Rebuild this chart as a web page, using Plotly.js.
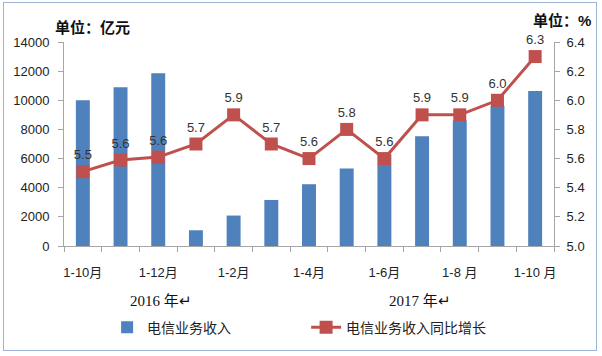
<!DOCTYPE html>
<html>
<head>
<meta charset="utf-8">
<script src="https://cdn.plot.ly/plotly-3.0.1.min.js"></script>
<style>
html,body{margin:0;padding:0;background:#fff;}
#wrap{position:relative;width:602px;height:356px;}
#chart{width:602px;height:356px;}
#frame{position:absolute;left:3px;top:2px;width:592px;height:347px;border:1px solid #9db4d4;pointer-events:none;}
</style>
</head>
<body>
<div id="wrap"><div id="chart"></div><div id="frame"></div></div>
<script>
// categories (unique keys; 2017 entries with space as in the reference)
const categories = ["1-10月","1-11月","1-12月","1月","1-2月","1-3月","1-4月","1-5月","1-6月","1-7月","1-8 月","1-9月","1-10 月"];
const tickLabels = ["1-10月","","1-12月","","1-2月","","1-4月","","1-6月","","1-8 月","","1-10 月"];
// 电信业务收入 (亿元)
const revenue = [10000, 10900, 11850, 1080, 2090, 3160, 4240, 5320, 6300, 7530, 8620, 9620, 10630];
// 同比增长 (%)
const growth = [5.51, 5.59, 5.61, 5.7, 5.9, 5.7, 5.6, 5.8, 5.6, 5.9, 5.9, 6.0, 6.3];
const growthLabels = ["5.5","5.6","5.6","5.7","5.9","5.7","5.6","5.8","5.6","5.9","5.9","6.0","6.3"];
const yearLabels = ["2016 年↵", "2017 年↵"];
const seriesNames = ["电信业务收入", "电信业务收入同比增长"];

const FONT = "Liberation Sans, Noto Sans CJK SC, sans-serif";

const traces = [
  {
    type: "bar", name: seriesNames[0], x: categories, y: revenue,
    marker: {color: "#4f81bd"}, yaxis: "y", hoverinfo: "skip"
  },
  {
    type: "scatter", mode: "lines+markers+text", name: seriesNames[1],
    x: categories, y: growth, yaxis: "y2",
    text: growthLabels, textposition: "top center",
    textfont: {family: FONT, size: 13, color: "#333"},
    line: {color: "#c0504d", width: 3},
    marker: {symbol: "square", size: 13, color: "#c0504d"},
    cliponaxis: false, hoverinfo: "skip"
  }
];

const layout = {
  width: 602, height: 356,
  margin: {l: 64, r: 48, t: 42, b: 106},
  paper_bgcolor: "#fff", plot_bgcolor: "#fff",
  font: {family: FONT, size: 13, color: "#222"},
  bargap: 0.63,
  showlegend: true,
  legend: {
    orientation: "h", x: 0.088, xanchor: "left", y: -0.4, yanchor: "middle",
    font: {family: FONT, size: 14, color: "#222"},
    entrywidth: 154, traceorder: "normal"
  },
  xaxis: {
    type: "category", categoryorder: "array", categoryarray: categories,
    tickmode: "array", tickvals: categories, ticktext: tickLabels, tickangle: 0,
    tickson: "boundaries", ticks: "outside", ticklen: 5, tickcolor: "#a6a6a6",
    showline: true, linecolor: "#a6a6a6", linewidth: 1,
    showgrid: false, zeroline: false,
    tickfont: {family: FONT, size: 13, color: "#222"},
    ticklabelstandoff: 14,
    range: [-0.5, 12.5]
  },
  yaxis: {
    range: [0, 14000], dtick: 2000, tick0: 0, tickformat: "d",
    ticks: "outside", ticklen: 5, tickcolor: "#a6a6a6",
    showline: true, linecolor: "#a6a6a6", showgrid: false, zeroline: false,
    tickfont: {family: FONT, size: 13, color: "#222"},
    ticklabelstandoff: 6
  },
  yaxis2: {
    overlaying: "y", side: "right", anchor: "x",
    range: [5.0, 6.4], dtick: 0.2, tick0: 5.0, tickformat: ".1f",
    ticks: "outside", ticklen: 5, tickcolor: "#a6a6a6",
    showline: true, linecolor: "#a6a6a6", showgrid: false, zeroline: false,
    tickfont: {family: FONT, size: 13, color: "#222"},
    ticklabelstandoff: 4
  },
  annotations: [
    {text: "<b>单位：亿元</b>", xref: "paper", yref: "paper", x: (53 - 64) / 490, y: (250 - 27) / 208,
     xanchor: "left", yanchor: "middle", showarrow: false,
     font: {family: FONT, size: 15, color: "#111"}},
    {text: "<b>单位：%</b>", xref: "paper", yref: "paper", x: (593 - 64) / 490, y: (250 - 20) / 208,
     xanchor: "right", yanchor: "middle", showarrow: false,
     font: {family: FONT, size: 15, color: "#111"}},
    {text: yearLabels[0], xref: "paper", yref: "paper", x: (161 - 64) / 490, y: (250 - 306) / 208,
     xanchor: "center", yanchor: "middle", showarrow: false,
     font: {family: "Liberation Serif, Noto Sans CJK SC, serif", size: 15, color: "#111"}},
    {text: yearLabels[1], xref: "paper", yref: "paper", x: (420 - 64) / 490, y: (250 - 306) / 208,
     xanchor: "center", yanchor: "middle", showarrow: false,
     font: {family: "Liberation Serif, Noto Sans CJK SC, serif", size: 15, color: "#111"}}
  ]
};

Plotly.newPlot("chart", traces, layout, {staticPlot: true, displayModeBar: false});
</script>
</body>
</html>
